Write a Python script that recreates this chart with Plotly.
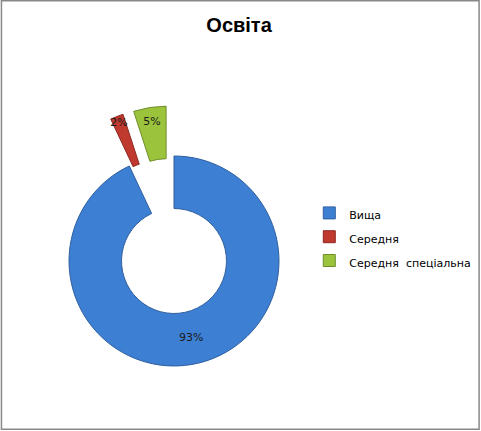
import plotly.graph_objects as go

title_text = "Освіта"
categories = ["Вища", "Середня", "Середня  спеціальна"]
values = [93, 2, 5]
colors = ["#3D7FD3", "#C0392F", "#9BC43C"]
line_colors = ["#2F5F9E", "#8E2A24", "#6F8E2A"]
pulls = [0, 0.48, 0.48]

legend_labels = [f"<span style='font-size:11px'>{c}</span>" for c in categories]

fig = go.Figure(go.Pie(
    labels=legend_labels,
    values=values,
    hole=0.5,
    sort=False,
    direction="clockwise",
    rotation=0,
    pull=pulls,
    marker=dict(colors=colors, line=dict(color=line_colors, width=1)),
    textinfo="percent",
    texttemplate="%{percent:.0%}",
    textposition="inside",
    insidetextorientation="horizontal",
    textfont=dict(family="DejaVu Sans", size=11, color="#1a1a1a"),
    domain=dict(x=[0.0387, 0.6848], y=[0.0339, 0.755]),
    hoverinfo="label+percent",
))

fig.update_layout(
    width=481, height=431,
    margin=dict(l=0, r=0, t=0, b=0),
    paper_bgcolor="white",
    plot_bgcolor="white",
    title=dict(text=f"<b>{title_text}</b>", x=0.497, xref="container", y=0.941,
               yref="container", xanchor="center", yanchor="middle",
               font=dict(family="Liberation Sans", size=20, color="#000")),
    uniformtext=dict(minsize=11, mode="show"),
    legend=dict(x=0.643, y=1 - 196 / 431, xanchor="left", yanchor="top",
                font=dict(family="DejaVu Sans", size=16, color="#000"),
                itemwidth=30, bgcolor="rgba(0,0,0,0)"),
    shapes=[dict(type="rect", xref="paper", yref="paper", x0=0.003, y0=0.004,
                 x1=0.996, y1=0.998, line=dict(color="#888888", width=1.5))],
)

fig.write_html("out.html", config={"displayModeBar": False},
               post_script="document.body.style.margin='0';document.body.style.overflow='hidden';")
